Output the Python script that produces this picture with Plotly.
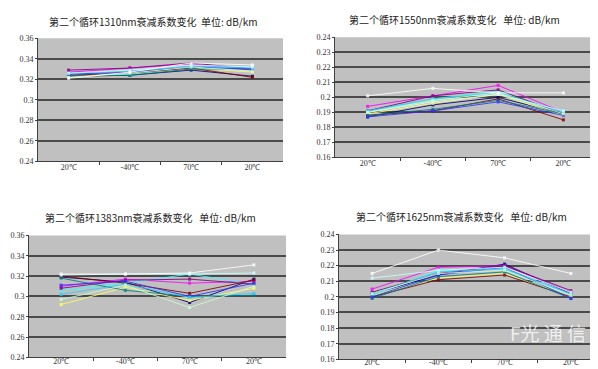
import plotly.graph_objects as go

categories = ["20℃", "-40℃", "70℃", "20℃"]

titles = [
    "第二个循环1310nm衰减系数变化  单位: dB/km",
    "第二个循环1550nm衰减系数变化   单位: dB/km",
    "第二个循环1383nm衰减系数变化   单位: dB/km",
    "第二个循环1625nm衰减系数变化   单位: dB/km",
]

series_colors = ["#000080", "#FF00FF", "#FFFF66", "#33FFFF", "#800080", "#800000",
                 "#008080", "#3333FF", "#33CCFF", "#CCFFFF", "#CCFFCC", "#FFFFFF"]

# 1310 nm
s1310 = [
    [0.323, 0.324, 0.329, 0.323],
    [0.327, 0.331, 0.335, 0.329],
    [0.322, 0.325, 0.331, 0.327],
    [0.325, 0.325, 0.332, 0.331],
    [0.329, 0.331, 0.336, 0.330],
    [0.324, 0.326, 0.331, 0.322],
    [0.323, 0.324, 0.330, 0.330],
    [0.325, 0.327, 0.332, 0.330],
    [0.326, 0.328, 0.333, 0.331],
    [0.326, 0.329, 0.334, 0.332],
    [0.322, 0.326, 0.332, 0.328],
    [0.321, 0.327, 0.336, 0.334],
]
# 1550 nm
s1550 = [
    [0.187, 0.195, 0.200, 0.189],
    [0.194, 0.201, 0.208, 0.190],
    [0.189, 0.196, 0.202, 0.188],
    [0.190, 0.199, 0.204, 0.190],
    [0.191, 0.201, 0.205, 0.189],
    [0.188, 0.191, 0.199, 0.185],
    [0.188, 0.192, 0.198, 0.189],
    [0.187, 0.191, 0.197, 0.188],
    [0.191, 0.199, 0.203, 0.190],
    [0.190, 0.197, 0.202, 0.191],
    [0.190, 0.198, 0.203, 0.189],
    [0.201, 0.206, 0.203, 0.203],
]
# 1383 nm
s1383 = [
    [0.319, 0.314, 0.294, 0.317],
    [0.310, 0.317, 0.313, 0.315],
    [0.292, 0.309, 0.296, 0.308],
    [0.306, 0.313, 0.322, 0.312],
    [0.308, 0.316, 0.317, 0.312],
    [0.320, 0.313, 0.303, 0.316],
    [0.318, 0.306, 0.300, 0.301],
    [0.311, 0.315, 0.300, 0.313],
    [0.302, 0.312, 0.299, 0.303],
    [0.321, 0.322, 0.322, 0.323],
    [0.297, 0.311, 0.289, 0.310],
    [0.322, 0.322, 0.323, 0.331],
]
# 1625 nm
s1625 = [
    [0.202, 0.214, 0.221, 0.202],
    [0.205, 0.219, 0.220, 0.203],
    [0.201, 0.212, 0.215, 0.200],
    [0.201, 0.217, 0.218, 0.201],
    [0.203, 0.215, 0.220, 0.204],
    [0.200, 0.211, 0.214, 0.200],
    [0.199, 0.213, 0.216, 0.199],
    [0.200, 0.214, 0.219, 0.199],
    [0.202, 0.216, 0.218, 0.202],
    [0.212, 0.217, 0.219, 0.203],
    [0.202, 0.215, 0.217, 0.201],
    [0.215, 0.230, 0.225, 0.215],
]

all_series = [s1310, s1550, s1383, s1625]
y_ranges = [(0.24, 0.36), (0.16, 0.24), (0.24, 0.36), (0.16, 0.24)]
y_ticks = [
    [0.24, 0.26, 0.28, 0.30, 0.32, 0.34, 0.36],
    [0.16, 0.17, 0.18, 0.19, 0.20, 0.21, 0.22, 0.23, 0.24],
    [0.24, 0.26, 0.28, 0.30, 0.32, 0.34, 0.36],
    [0.16, 0.17, 0.18, 0.19, 0.20, 0.21, 0.22, 0.23, 0.24],
]

W, H = 598, 369
# plot areas in pixels: (left, right, top, bottom)
boxes = [(30, 275, 27, 153), (327, 588, 26, 149), (21, 278, 229, 354), (331, 596, 228, 356)]
title_pos = [(145, 10), (447, 8), (142, 211), (453, 210)]
standoffs = [-2, -2, -4, -5]

fig = go.Figure()
x_idx = list(range(len(categories)))

def fmt(v):
    s = f"{v:.2f}"
    if s.endswith("0"):
        s = s[:-1]
    return s

for k in range(4):
    ax = "" if k == 0 else str(k + 1)
    for i, ys in enumerate(all_series[k]):
        c = series_colors[i % len(series_colors)]
        fig.add_trace(go.Scatter(
            x=x_idx, y=ys, mode="lines+markers",
            line=dict(color=c, width=1),
            marker=dict(symbol="square", size=3, color=c),
            opacity=0.85,
            xaxis="x" + ax, yaxis="y" + ax, showlegend=False,
        ))
    l, r, t, b = boxes[k]
    xd = [l / W, r / W]
    yd = [1 - b / H, 1 - t / H]
    fig.layout["xaxis" + ax] = dict(
        domain=xd, anchor="y" + ax, range=[-0.5, 3.5],
        tickvals=x_idx, ticktext=categories, ticks="", showgrid=False,
        showline=True, linecolor="#404040", linewidth=1, zeroline=False,
        tickfont=dict(family="Liberation Serif", size=8, color="#333"),
        ticklabelstandoff=standoffs[k],
        minor=dict(tickvals=[0.5, 1.5, 2.5], ticks="outside", ticklen=3, tickcolor="#404040"),
        fixedrange=True,
    )
    fig.layout["yaxis" + ax] = dict(
        domain=yd, anchor="x" + ax, range=list(y_ranges[k]),
        tickvals=y_ticks[k], ticktext=[fmt(v) for v in y_ticks[k]],
        showgrid=True, gridcolor="#4a4a4a", gridwidth=1.6,
        showline=True, linecolor="#404040", linewidth=1, zeroline=False,
        ticks="outside", ticklen=2, tickcolor="#404040",
        tickfont=dict(family="Liberation Serif", size=8, color="#333"),
        fixedrange=True,
    )
    fig.add_shape(type="rect", xref="paper", yref="paper",
                  x0=xd[0], x1=xd[1], y0=yd[0], y1=yd[1],
                  fillcolor="#C0C0C0", line=dict(width=0), layer="below")
    tx, ty = title_pos[k]
    fig.add_annotation(text=titles[k], x=tx / W, y=1 - ty / H, xref="paper", yref="paper",
                       showarrow=False, xanchor="center", yanchor="middle",
                       font=dict(family="Noto Sans CJK SC", size=10, color="#222"))

fig.add_annotation(text="F光&nbsp;通&nbsp;信", x=500 / W, y=1 - 328 / H,
                   xref="paper", yref="paper", xanchor="left", yanchor="middle",
                   showarrow=False, font=dict(family="Noto Sans CJK SC", size=19, color="rgba(255,255,255,0.75)"))

fig.update_layout(width=W, height=H, margin=dict(l=0, r=0, t=0, b=0),
                  paper_bgcolor="white", plot_bgcolor="rgba(0,0,0,0)")

fig.write_html("out.html")
